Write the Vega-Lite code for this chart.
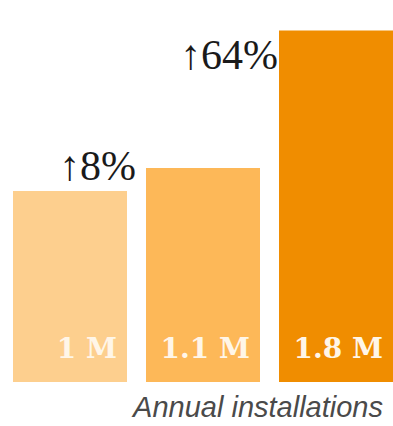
{
  "$schema": "https://vega.github.io/schema/vega-lite/v6.json",
  "width": 380,
  "height": 382,
  "padding": {"left": 13, "top": 0, "right": 0, "bottom": 0},
  "background": "white",
  "config": {"view": {"stroke": null}},
  "title": {
    "text": "Annual installations",
    "orient": "bottom",
    "anchor": "end",
    "baseline": "alphabetic",
    "offset": 35,
    "dx": -10,
    "font": "Liberation Sans",
    "fontSize": 29,
    "fontStyle": "italic",
    "fontWeight": "normal",
    "color": "#4a4a4a"
  },
  "data": {
    "values": [
      {"cat": "A", "value": 1.0, "label": "1 M", "change": "↑8%", "color": "#FDCF8E"},
      {"cat": "B", "value": 1.12, "label": "1.1 M", "change": "", "color": "#FDB858"},
      {"cat": "C", "value": 1.84, "label": "1.8 M", "change": "↑64%", "color": "#F08D00"}
    ]
  },
  "encoding": {
    "x": {"field": "cat", "type": "nominal", "axis": null,
          "scale": {"paddingInner": 0.1429, "paddingOuter": 0}}
  },
  "layer": [
    {
      "mark": {"type": "bar"},
      "encoding": {
        "y": {"field": "value", "type": "quantitative", "axis": null,
              "scale": {"domain": [0, 2], "nice": false}},
        "color": {"field": "color", "type": "nominal", "scale": null, "legend": null}
      }
    },
    {
      "mark": {"type": "text", "align": "right", "baseline": "alphabetic", "dx": -10, "dy": -24,
               "font": "DejaVu Serif", "fontWeight": "bold", "fontSize": 28, "color": "#FFF6E8"},
      "encoding": {
        "x": {"field": "cat", "type": "nominal", "bandPosition": 1},
        "y": {"datum": 0, "type": "quantitative"},
        "text": {"field": "label"}
      }
    },
    {
      "transform": [{"filter": "datum.cat === 'A'"}],
      "mark": {"type": "text", "align": "left", "baseline": "alphabetic", "dx": 46, "dy": -11,
               "font": "Liberation Serif", "fontSize": 42, "color": "#1a1a1a"},
      "encoding": {
        "x": {"field": "cat", "type": "nominal", "bandPosition": 0},
        "y": {"field": "value", "type": "quantitative"},
        "text": {"field": "change"}
      }
    },
    {
      "transform": [{"filter": "datum.cat === 'C'"}],
      "mark": {"type": "text", "align": "right", "baseline": "alphabetic", "dx": -1, "dy": 38,
               "font": "Liberation Serif", "fontSize": 42, "color": "#1a1a1a"},
      "encoding": {
        "x": {"field": "cat", "type": "nominal", "bandPosition": 0},
        "y": {"field": "value", "type": "quantitative"},
        "text": {"field": "change"}
      }
    }
  ]
}
